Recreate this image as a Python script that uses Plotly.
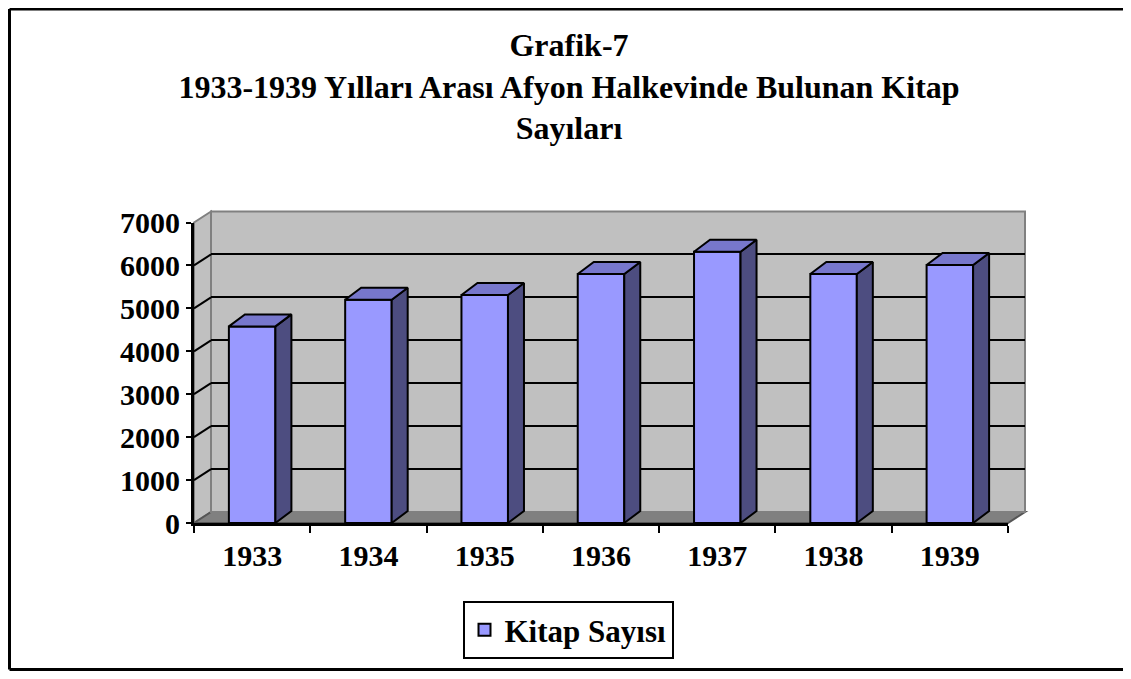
import plotly.graph_objects as go

# datos del grafico
yillar = ["1933", "1934", "1935", "1936", "1937", "1938", "1939"]
kitap_sayisi = [4580, 5200, 5310, 5800, 6320, 5800, 6010]
y_ticks = [0, 1000, 2000, 3000, 4000, 5000, 6000, 7000]

# la pagina tiene 8 px de margen en el body
OFF = 8
W, H = 1131 - 2 * OFF, 679 - 2 * OFF

# geometria en pixeles de la pagina (plano frontal y pared del fondo)
FX0, FX1, FYT, FYB = 194, 1008, 222.5, 523
DX, DY = 17, 11          # desplazamiento de la pared del fondo
BDX, BDY = 16, 12        # profundidad de las barras
YMAX = 7000
ANCHO = 0.40


def px(x):
    return (x - OFF) / W


def py(y):
    return 1 - (y - OFF) / H


n = len(yillar)
cat_px = (FX1 - FX0) / n
val_px = (FYB - FYT) / YMAX
ddx = BDX / cat_px
ddy = BDY / val_px

fig = go.Figure()

# caras frontales
fig.add_trace(go.Bar(
    x=list(range(n)), y=kitap_sayisi, width=ANCHO,
    marker=dict(color="#9999FF", line=dict(color="black", width=2)),
    name="Kitap Sayısı", xaxis="x2", yaxis="y2", showlegend=True
))

# caras laterales y superiores
for i, v in enumerate(kitap_sayisi):
    xl, xr = i - ANCHO / 2, i + ANCHO / 2
    fig.add_trace(go.Scatter(
        x=[xr, xr + ddx, xr + ddx, xr, xr], y=[0, ddy, v + ddy, v, 0],
        fill="toself", fillcolor="#4D4D80", mode="lines",
        line=dict(color="black", width=2), xaxis="x2", yaxis="y2",
        showlegend=False, hoverinfo="skip"
    ))
    fig.add_trace(go.Scatter(
        x=[xl, xr, xr + ddx, xl + ddx, xl], y=[v, v, v + ddy, v + ddy, v],
        fill="toself", fillcolor="#7777CC", mode="lines",
        line=dict(color="black", width=2), xaxis="x2", yaxis="y2",
        showlegend=False, hoverinfo="skip"
    ))

# trazo invisible para la pared del fondo
fig.add_trace(go.Scatter(x=[0], y=[0], mode="markers", marker=dict(opacity=0),
                         xaxis="x", yaxis="y", showlegend=False, hoverinfo="skip"))

shapes = []
# pared lateral
shapes.append(dict(type="path", xref="paper", yref="paper", layer="below",
                   path=f"M{px(FX0)},{py(FYB)} L{px(FX0)},{py(FYT)} L{px(FX0+DX)},{py(FYT-DY)} L{px(FX0+DX)},{py(FYB-DY)} Z",
                   fillcolor="#C0C0C0", line=dict(color="#808080", width=2)))
# suelo
shapes.append(dict(type="path", xref="paper", yref="paper", layer="below",
                   path=f"M{px(FX0)},{py(FYB)} L{px(FX1)},{py(FYB)} L{px(FX1+DX)},{py(FYB-DY)} L{px(FX0+DX)},{py(FYB-DY)} Z",
                   fillcolor="#808080", line=dict(color="#555555", width=2)))
# pared del fondo
shapes.append(dict(type="rect", xref="paper", yref="paper", layer="below",
                   x0=px(FX0 + DX), x1=px(FX1 + DX), y0=py(FYB - DY), y1=py(FYT - DY),
                   fillcolor="#C0C0C0", line=dict(color="#808080", width=2)))
# lineas de la pared lateral
for t in y_ticks[1:-1]:
    yf = FYB - t * val_px
    shapes.append(dict(type="line", xref="paper", yref="paper", layer="below",
                       x0=px(FX0), y0=py(yf), x1=px(FX0 + DX), y1=py(yf - DY),
                       line=dict(color="black", width=2)))
# marco exterior (izquierda, arriba, abajo)
bx0, bx1, by0, by1 = px(OFF + 1.5), px(1131), py(OFF + 1), py(OFF + H - 1.5)
for x0, y0, x1, y1 in [(bx0, by0, bx0, by1), (bx0, by0, bx1, by0), (bx0, by1, bx1, by1)]:
    shapes.append(dict(type="line", xref="paper", yref="paper",
                       x0=x0, y0=y0, x1=x1, y1=y1, line=dict(color="black", width=3)))

fuente = dict(family="Liberation Serif", size=30, color="black", weight="bold")

fig.update_layout(
    width=W, height=H,
    margin=dict(l=0, r=0, t=0, b=0, pad=0),
    paper_bgcolor="white",
    plot_bgcolor="rgba(0,0,0,0)",
    title=dict(
        text="Grafik-7<br>1933-1939 Yılları Arası Afyon Halkevinde Bulunan Kitap<br>Sayıları",
        x=px(569), xanchor="center", y=py(56), yanchor="middle", automargin=False,
        font=dict(family="Liberation Serif", size=32, color="black", weight="bold")
    ),
    # pared del fondo
    xaxis=dict(domain=[px(FX0 + DX), px(FX1 + DX)], range=[-0.5, n - 0.5], automargin=False,
               showgrid=False, zeroline=False, showticklabels=False, showline=False),
    yaxis=dict(domain=[py(FYB - DY), py(FYT - DY)], range=[0, YMAX], automargin=False,
               tickvals=y_ticks[1:-1], showgrid=True, gridcolor="black", gridwidth=2,
               zeroline=False, showticklabels=False, showline=False),
    # plano frontal
    xaxis2=dict(domain=[px(FX0), px(FX1)], range=[-0.5, n - 0.5], anchor="y2", automargin=False,
                tickvals=list(range(n)), ticktext=yillar, ticks="",
                tickfont=fuente, ticklabelstandoff=4,
                minor=dict(tickvals=[i - 0.5 for i in range(n + 1)], ticks="outside",
                           ticklen=7, tickwidth=2, tickcolor="black"),
                showgrid=False, zeroline=False, showline=True, linecolor="black", linewidth=3),
    yaxis2=dict(domain=[py(FYB), py(FYT)], range=[0, YMAX], anchor="x2", automargin=False,
                tickvals=y_ticks, ticks="outside", ticklen=5, tickwidth=2, tickcolor="black",
                tickfont=fuente, showgrid=False, zeroline=False,
                showline=True, linecolor="black", linewidth=3),
    legend=dict(
        x=px(568), xanchor="center", y=py(630), yanchor="middle",
        orientation="h", bordercolor="black", borderwidth=2, bgcolor="white",
        font=dict(family="Liberation Serif", size=31, color="black", weight="bold")
    ),
    shapes=shapes,
    showlegend=True,
)

fig.write_html("out.html")
